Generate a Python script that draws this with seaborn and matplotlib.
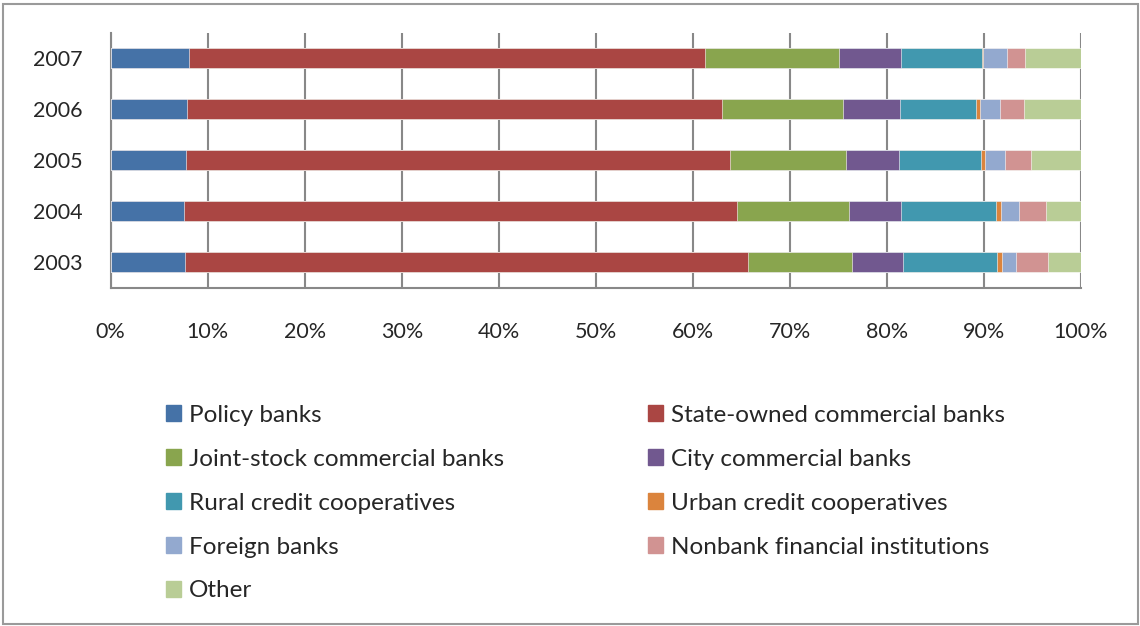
import matplotlib
matplotlib.use("Agg")
import matplotlib.pyplot as plt
import matplotlib.patches as mpatches
import numpy as np
import pandas as pd
import seaborn as sns

years = ["2007", "2006", "2005", "2004", "2003"]
series_names = [
    "Policy banks",
    "State-owned commercial banks",
    "Joint-stock commercial banks",
    "City commercial banks",
    "Rural credit cooperatives",
    "Urban credit cooperatives",
    "Foreign banks",
    "Nonbank financial institutions",
    "Other",
]
policy_banks = [8.1, 7.9, 7.8, 7.6, 7.7]
state_owned = [53.2, 55.1, 56.05, 56.9, 58.0]
joint_stock = [13.8, 12.5, 11.95, 11.6, 10.7]
city_commercial = [6.4, 5.8, 5.45, 5.4, 5.3]
rural_credit = [8.25, 7.9, 8.4, 9.7, 9.6]
urban_credit = [0.2, 0.4, 0.5, 0.6, 0.55]
foreign_banks = [2.4, 2.1, 2.0, 1.8, 1.45]
nonbank = [1.85, 2.4, 2.7, 2.8, 3.3]
other = [5.8, 5.9, 5.15, 3.6, 3.4]

colors = ["#4572A7", "#AA4643", "#89A54E", "#71588F", "#4198AF",
          "#DB843D", "#93A9CF", "#D19392", "#B9CD96"]

values = np.array([policy_banks, state_owned, joint_stock, city_commercial,
                   rural_credit, urban_credit, foreign_banks, nonbank, other])
shares = values / values.sum(axis=0) * 100
cum = np.cumsum(shares, axis=0)

sns.set_style("white")
plt.rcParams["font.family"] = ["Lato", "DejaVu Sans"]

W, H = 1140, 626
fig = plt.figure(figsize=(W / 100, H / 100), dpi=100)
ax = fig.add_axes([110.7 / W, 1 - 287.5 / H, (1081 - 110.7) / W, (287.5 - 32.5) / H])

for i in range(len(series_names) - 1, -1, -1):
    df = pd.DataFrame({"year": years, "value": cum[i]})
    sns.barplot(data=df, x="value", y="year", order=years, orient="h",
                color=colors[i], width=0.4, saturation=1, ax=ax,
                edgecolor="white", linewidth=0.4, zorder=3)

ax.set_xlim(0, 100)
ax.set_ylim(4.5, -0.5)
ax.set_xticks(np.arange(0, 101, 10))
ax.set_xticklabels([f"{v}%" for v in range(0, 101, 10)])
ax.set_yticks(np.arange(-0.5, 5, 1), minor=True)
ax.tick_params(axis="y", which="major", length=0, pad=20, labelsize=15.5)
ax.tick_params(axis="y", which="minor", length=7, width=1.5, color="#888888", direction="out")
ax.tick_params(axis="x", which="major", length=6, width=1.5, color="#888888",
               direction="out", pad=19, labelsize=15.5)
ax.set_xlabel("")
ax.set_ylabel("")
ax.grid(axis="x", color="#888888", linewidth=1.5, zorder=0)
ax.set_axisbelow(True)
for s in ["top", "right"]:
    ax.spines[s].set_visible(False)
for s in ["left", "bottom"]:
    ax.spines[s].set_color("#888888")
    ax.spines[s].set_linewidth(1.5)

handles = [mpatches.Patch(color=c, label=n) for c, n in zip(colors, series_names)]
col1 = [handles[i] for i in (0, 2, 4, 6, 8)]
col2 = [handles[i] for i in (1, 3, 5, 7)]
leg_kw = dict(frameon=False, fontsize=17.5, handlelength=0.63, handleheight=0.63,
              handletextpad=0.3, labelspacing=0.94, borderaxespad=0, borderpad=0,
              loc="upper left")
fig.legend(handles=col1, bbox_to_anchor=(166 / W, 1 - 405 / H), **leg_kw)
fig.legend(handles=col2, bbox_to_anchor=(648 / W, 1 - 405 / H), **leg_kw)

border = mpatches.Rectangle((3 / W, 2 / H), (1138 - 3) / W, (622 - 2) / H,
                            transform=fig.transFigure, fill=False,
                            edgecolor="#9a9a9a", linewidth=1.5)
fig.patches.append(border)

fig.savefig("out.png", dpi=100)
